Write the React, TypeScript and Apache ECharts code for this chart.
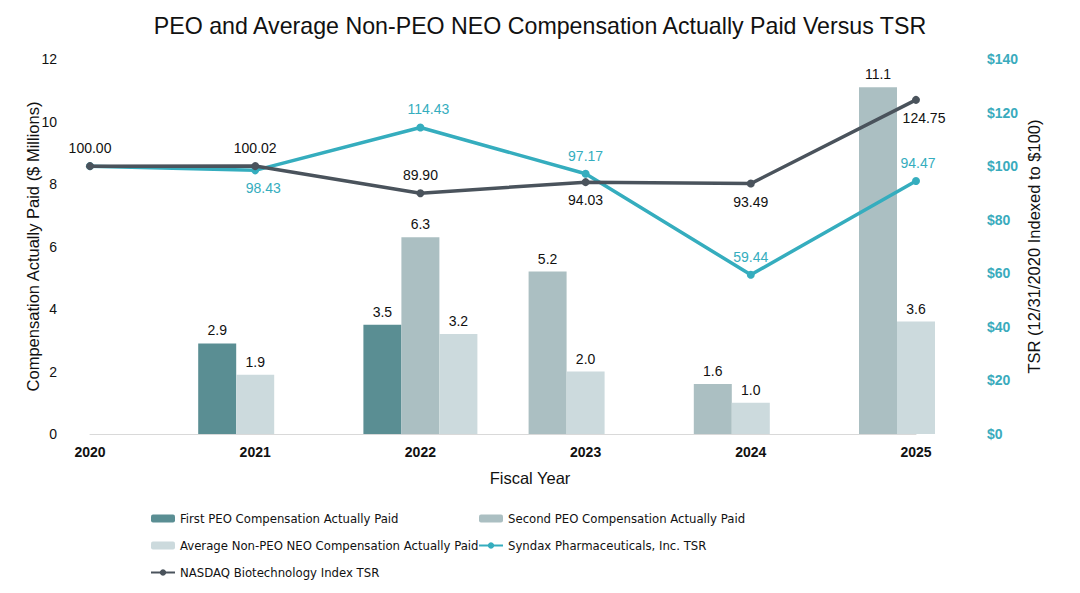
import React, { useEffect, useRef } from "react";
import * as echarts from "echarts";

const years = ["2020", "2021", "2022", "2023", "2024", "2025"];
const firstPeo = [null, 2.9, 3.5, null, null, null];
const secondPeo = [null, null, 6.3, 5.2, 1.6, 11.1];
const avgNonPeo = [null, 1.9, 3.2, 2.0, 1.0, 3.6];
const syndaxTsr = [100.0, 98.43, 114.43, 97.17, 59.44, 94.47];
const nasdaqTsr = [100.0, 100.02, 89.9, 94.03, 93.49, 124.75];
const leftTicks = [0, 12, 2];
const rightTicks = [0, 140, 20];

const FONT = 'Arial, "Liberation Sans", sans-serif';
const LEGEND_FONT = '"DejaVu Sans Condensed", Arial, "Liberation Sans", sans-serif';

const barDefs = [
  { name: "First PEO Compensation Actually Paid", values: firstPeo, color: "#5a8e93" },
  { name: "Second PEO Compensation Actually Paid", values: secondPeo, color: "#abbfc2" },
  { name: "Average Non-PEO NEO Compensation Actually Paid", values: avgNonPeo, color: "#ccdadd" },
];
const SYNDAX = "Syndax Pharmaceuticals, Inc. TSR";
const NASDAQ = "NASDAQ Biotechnology Index TSR";
const tealColor = "#35adbe";
const darkColor = "#4a535c";

const nasdaqLabelPos = ["top", "top", "top", "bottom", "bottom", "bottom"];
const nasdaqLabelOff = [[0, 0], [0, 0], [0, 0], [0, 0], [0, 0], [8, 0]];
const syndaxLabelPos = [null, "bottom", "top", "top", "top", "top"];
const syndaxLabelOff = [[0, 0], [8, 0], [8, 0], [0, 0], [0, 0], [2, 0]];

export default function App() {
  const ref = useRef<HTMLDivElement>(null);
  useEffect(() => {
    if (!ref.current) return;
    const chart = echarts.init(ref.current, undefined, { renderer: "svg" });

    const slots: any[][] = [[], [], []];
    years.forEach((_, i) => {
      const present = barDefs.filter((d) => d.values[i] != null);
      for (let s = 0; s < 3; s++) {
        const d = present[s];
        slots[s].push(d ? { value: d.values[i], itemStyle: { color: d.color } } : "-");
      }
    });

    const slotSeries = slots.map((data, s) => ({
      type: "bar",
      name: "slot" + s,
      xAxisIndex: 0,
      yAxisIndex: 0,
      barWidth: 38,
      barGap: "0%",
      clip: false,
      data,
      label: {
        show: true,
        position: "top",
        distance: 6,
        color: "#111",
        fontFamily: FONT,
        fontSize: 14,
        formatter: (p: any) => Number(p.value).toFixed(1),
      },
      z: 2,
    }));

    const legendSeries = barDefs.map((d) => ({
      type: "bar",
      name: d.name,
      xAxisIndex: 1,
      yAxisIndex: 0,
      data: [],
      itemStyle: { color: d.color },
    }));

    const lineData = (vals: number[], pos: any[], off: number[][], color: string) =>
      vals.map((v, i) => ({
        value: v,
        label: pos[i]
          ? { show: true, position: pos[i], offset: off[i], color, distance: 7 }
          : { show: false },
      }));

    const legendText = { fontFamily: LEGEND_FONT, fontSize: 13, color: "#111", lineHeight: 17 };

    const option: any = {
      animation: false,
      backgroundColor: "#ffffff",
      title: {
        text: "PEO and Average Non-PEO NEO Compensation Actually Paid Versus TSR",
        left: "center",
        top: 9,
        textStyle: { fontFamily: FONT, fontSize: 23.2, fontWeight: "normal", color: "#111" },
      },
      grid: { left: 90, right: 164, top: 59, bottom: 159, containLabel: false },
      legend: [
        {
          orient: "vertical",
          left: 150,
          top: 510,
          padding: 0,
          itemGap: 10,
          itemWidth: 24,
          itemHeight: 8,
          textStyle: legendText,
          data: [barDefs[0].name, barDefs[2].name, NASDAQ],
        },
        {
          orient: "vertical",
          left: 478,
          top: 510,
          padding: 0,
          itemGap: 10,
          itemWidth: 24,
          itemHeight: 8,
          textStyle: legendText,
          data: [barDefs[1].name, SYNDAX],
        },
      ],
      xAxis: [
        {
          type: "category",
          data: years,
          boundaryGap: false,
          axisLine: { lineStyle: { color: "#d9d9d9", width: 1 } },
          axisTick: { show: false },
          axisLabel: {
            interval: 0,
            margin: 11,
            fontFamily: FONT,
            fontSize: 14,
            fontWeight: "bold",
            color: "#111",
          },
          name: "Fiscal Year",
          nameLocation: "middle",
          nameGap: 35,
          nameTextStyle: { fontFamily: FONT, fontSize: 16.5, color: "#111", padding: [0, 0, 0, 54] },
        },
        {
          type: "category",
          data: years,
          show: false,
        },
      ],
      yAxis: [
        {
          type: "value",
          min: leftTicks[0],
          max: leftTicks[1],
          interval: leftTicks[2],
          splitLine: { show: false },
          axisLine: { show: false },
          axisTick: { show: false },
          axisLabel: { margin: 33, fontFamily: FONT, fontSize: 14, color: "#111" },
          name: "Compensation Actually Paid ($ Millions)",
          nameLocation: "middle",
          nameRotate: 90,
          nameGap: 49,
          nameMoveOverlap: false,
          nameTextStyle: { fontFamily: FONT, fontSize: 16.5, color: "#111" },
        },
        {
          type: "value",
          position: "right",
          min: rightTicks[0],
          max: rightTicks[1],
          interval: rightTicks[2],
          splitLine: { show: false },
          axisLine: { show: false },
          axisTick: { show: false },
          axisLabel: {
            margin: 71,
            fontFamily: FONT,
            fontSize: 14,
            fontWeight: "bold",
            color: "#3aabbd",
            formatter: (v: number) => "$" + v,
          },
          name: "TSR (12/31/2020 Indexed to $100)",
          nameLocation: "middle",
          nameRotate: 90,
          nameGap: 109,
          nameMoveOverlap: false,
          nameTextStyle: { fontFamily: FONT, fontSize: 16.5, color: "#111" },
        },
      ],
      series: [
        ...slotSeries,
        ...legendSeries,
        {
          type: "line",
          name: SYNDAX,
          xAxisIndex: 0,
          yAxisIndex: 1,
          data: lineData(syndaxTsr, syndaxLabelPos, syndaxLabelOff, tealColor),
          symbol: "circle",
          symbolSize: 8,
          lineStyle: { color: tealColor, width: 3.5 },
          itemStyle: { color: tealColor },
          label: {
            fontFamily: FONT,
            fontSize: 14,
            formatter: (p: any) => Number(p.value).toFixed(2),
          },
          z: 5,
        },
        {
          type: "line",
          name: NASDAQ,
          xAxisIndex: 0,
          yAxisIndex: 1,
          data: lineData(nasdaqTsr, nasdaqLabelPos, nasdaqLabelOff, "#111"),
          symbol: "circle",
          symbolSize: 8,
          lineStyle: { color: darkColor, width: 3.5 },
          itemStyle: { color: darkColor },
          label: {
            fontFamily: FONT,
            fontSize: 14,
            formatter: (p: any) => Number(p.value).toFixed(2),
          },
          z: 6,
        },
      ],
    };
    chart.setOption(option);
    return () => chart.dispose();
  }, []);

  return (
    <div
      ref={ref}
      style={{ position: "fixed", left: 0, top: 0, width: 1080, height: 593, background: "#fff" }}
    />
  );
}
